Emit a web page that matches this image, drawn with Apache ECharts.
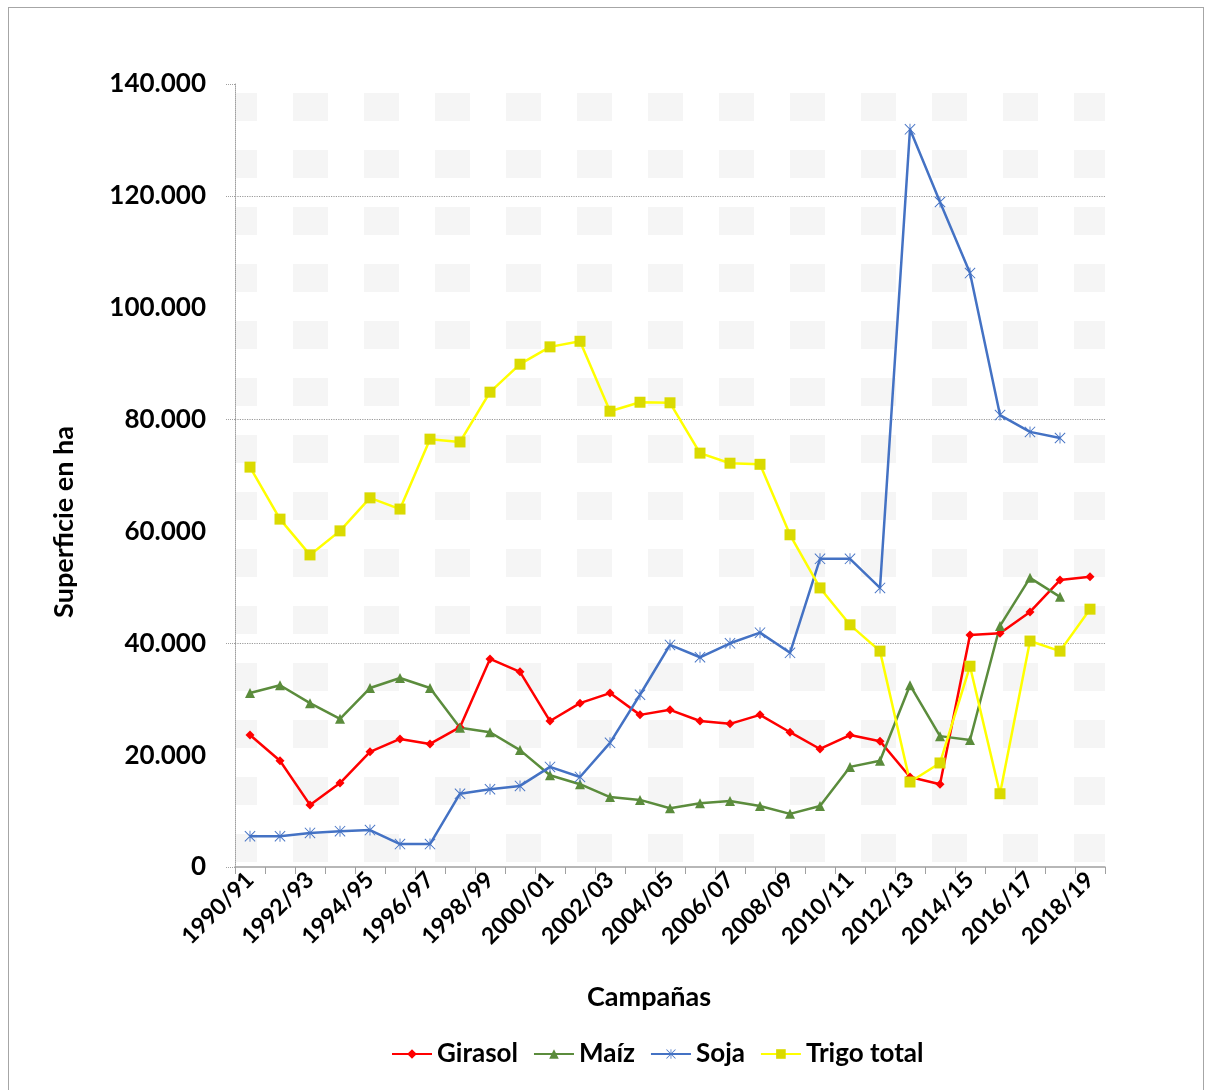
<!DOCTYPE html>
<html>
<head>
  <meta charset="utf-8">
  <title>Superficie en ha</title>
  <script src="https://cdn.jsdelivr.net/npm/echarts@6/dist/echarts.min.js"></script>
  <style>
    body { margin: 0; background: #fff; }
    #frame {
      position: absolute; left: 8px; top: 7px; width: 1196px; height: 1100px;
      border: 1px solid #a6a6a6; box-sizing: border-box;
    }
    #main { position: absolute; left: 0; top: 0; width: 1206px; height: 1090px; }
  </style>
</head>
<body>
<div id="frame"></div>
<div id="main"></div>
<script type="text/javascript">
  // campañas
  var campanas = ['1990/91', '1991/92', '1992/93', '1993/94', '1994/95', '1995/96', '1996/97',
    '1997/98', '1998/99', '1999/00', '2000/01', '2001/02', '2002/03', '2003/04', '2004/05',
    '2005/06', '2006/07', '2007/08', '2008/09', '2009/10', '2010/11', '2011/12', '2012/13',
    '2013/14', '2014/15', '2015/16', '2016/17', '2017/18', '2018/19'];

  // superficie en ha
  var girasol = [23600, 19000, 11100, 15000, 20600, 22900, 22000, 25000, 37200, 34900,
    26100, 29300, 31100, 27200, 28100, 26100, 25600, 27200, 24100, 21100,
    23600, 22500, 16100, 14800, 41500, 41800, 45600, 51300, 51900];
  var maiz = [31100, 32500, 29300, 26500, 32000, 33800, 32000, 24900, 24100, 20900,
    16400, 14800, 12500, 12000, 10500, 11400, 11800, 10900, 9500, 10900,
    17900, 19000, 32500, 23400, 22700, 43100, 51700, 48300];
  var soja = [5500, 5500, 6100, 6400, 6600, 4100, 4100, 13100, 13900, 14500,
    17900, 16100, 22200, 30800, 39700, 37500, 40000, 41900, 38300, 55100,
    55100, 49900, 131900, 118900, 106200, 80800, 77800, 76700];
  var trigo = [71500, 62200, 55800, 60100, 66000, 64000, 76500, 76000, 84900, 89900,
    93000, 94000, 81500, 83100, 83000, 74000, 72200, 72000, 59400, 49900,
    43300, 38600, 15200, 18600, 35900, 13100, 40400, 38600, 46100];

  var font = 'Lato, "Open Sans", sans-serif';

  // fondo punteado del área de trazado
  var tile = document.createElement('canvas');
  tile.width = 71; tile.height = 57;
  var tctx = tile.getContext('2d');
  tctx.fillStyle = '#f5f5f5';
  tctx.fillRect(0, 0, 35, 28);

  function fmt(v) {
    return String(v).replace(/\B(?=(\d{3})+(?!\d))/g, '.');
  }

  var asterisk = 'path://M4.6,0L5.4,0L5.4,10L4.6,10Z M0,0.6L0.6,0L10,9.4L9.4,10Z M9.4,0L10,0.6L0.6,10L0,9.4Z';

  var myChart = echarts.init(document.getElementById('main'));

  var option = {
    animation: false,
    grid: {
      left: 235, right: 101, top: 84, bottom: 223,
      show: true,
      borderWidth: 0,
      backgroundColor: { image: tile, repeat: 'repeat', x: 9, y: 36 }
    },
    legend: {
      left: 386,
      top: 1036,
      itemGap: 15,
      itemWidth: 40,
      itemHeight: 12,
      textStyle: { fontFamily: font, fontWeight: 'bold', fontSize: 26, color: '#000' },
      data: ['Girasol', 'Maíz', 'Soja', 'Trigo total']
    },
    graphic: [{
      type: 'text',
      x: 64, y: 522,
      rotation: Math.PI / 2,
      style: {
        text: 'Superficie en ha',
        font: 'bold 27px ' + font,
        fill: '#000',
        align: 'center',
        verticalAlign: 'middle'
      }
    }, {
      type: 'text',
      x: 649, y: 997,
      style: {
        text: 'Campañas',
        font: 'bold 27px ' + font,
        fill: '#000',
        align: 'center',
        verticalAlign: 'middle'
      }
    }],
    xAxis: {
      type: 'category',
      data: campanas,
      boundaryGap: true,
      axisLine: { lineStyle: { color: '#a0a0a0', width: 1.5 } },
      axisTick: { show: true, interval: 0, length: 7, lineStyle: { color: '#a0a0a0' } },
      axisLabel: {
        interval: 1,
        rotate: 45,
        margin: 9,
        fontFamily: font,
        fontWeight: 'bold',
        fontSize: 23,
        color: '#000'
      }
    },
    yAxis: [{
      type: 'value',
      min: 0, max: 140000, interval: 20000,
      axisLine: { show: true, lineStyle: { color: '#a0a0a0', type: 'dotted' } },
      axisTick: { show: false },
      splitLine: { show: false },
      axisLabel: {
        margin: 29,
        formatter: fmt,
        fontFamily: font,
        fontWeight: 'bold',
        fontSize: 26,
        color: '#000'
      }
    }, {
      type: 'value',
      position: 'left',
      min: 0, max: 140000, interval: 40000,
      axisLine: { show: false },
      axisLabel: { show: false },
      axisTick: { show: true, length: 10, lineStyle: { color: '#a0a0a0', type: 'dotted' } },
      splitLine: { show: true, showMaxLine: false, showMinLine: false, lineStyle: { color: '#9a9a9a', type: 'dotted', width: 1.2 } }
    }],
    series: [{
      name: 'Girasol',
      type: 'line',
      data: girasol,
      symbol: 'diamond',
      symbolSize: 9,
      itemStyle: { color: '#ff0000' },
      lineStyle: { color: '#ff0000', width: 2.5 }
    }, {
      name: 'Maíz',
      type: 'line',
      data: maiz,
      symbol: 'triangle',
      symbolSize: 10,
      itemStyle: { color: '#5b8c3c' },
      lineStyle: { color: '#5b8c3c', width: 2.5 }
    }, {
      name: 'Soja',
      type: 'line',
      data: soja,
      symbol: asterisk,
      symbolSize: 11,
      itemStyle: { color: '#4472c4' },
      lineStyle: { color: '#4472c4', width: 2.5 }
    }, {
      name: 'Trigo total',
      type: 'line',
      data: trigo,
      symbol: 'rect',
      symbolSize: 11,
      itemStyle: { color: '#dada00' },
      lineStyle: { color: '#ffff00', width: 2.5 }
    }]
  };

  myChart.setOption(option);
</script>
</body>
</html>
